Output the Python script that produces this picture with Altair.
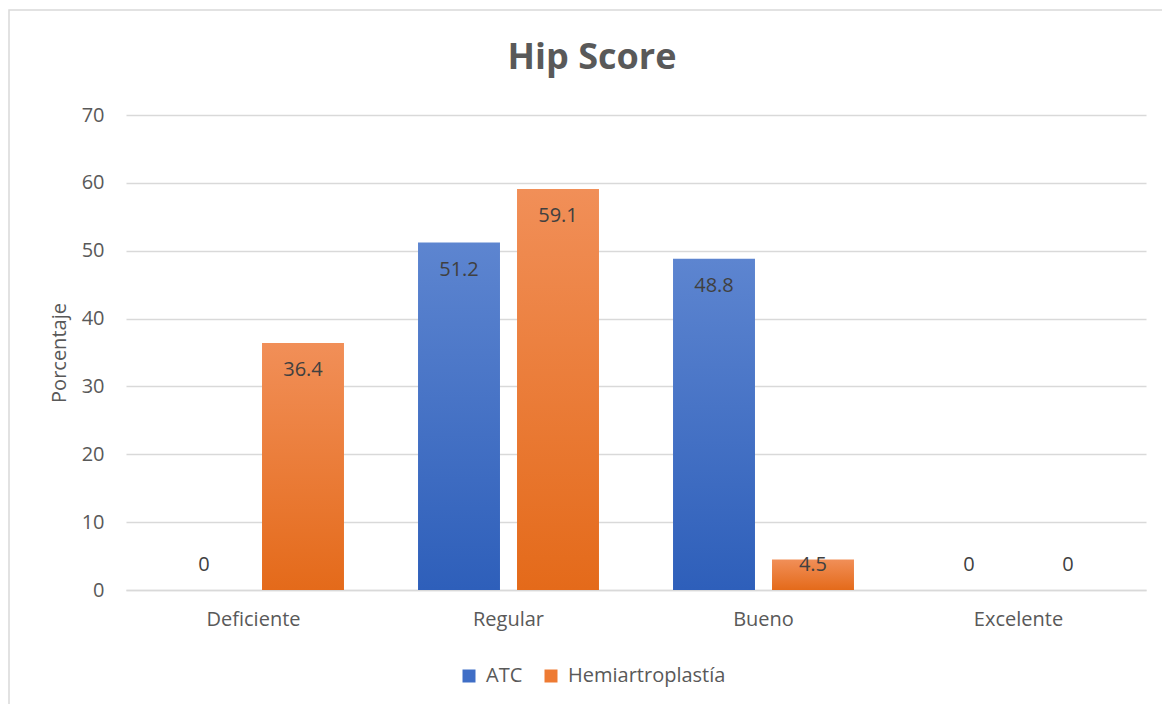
import altair as alt
import pandas as pd

categories = ["Deficiente", "Regular", "Bueno", "Excelente"]
series = ["ATC", "Hemiartroplastía"]
atc_values = [0, 51.2, 48.8, 0]
hemi_values = [36.4, 59.1, 4.5, 0]
y_ticks = [0, 10, 20, 30, 40, 50, 60, 70]

rows = []
for c, a, h in zip(categories, atc_values, hemi_values):
    rows.append({"cat": c, "serie": "ATC", "valor": a})
    rows.append({"cat": c, "serie": "Hemiartroplastía", "valor": h})
df = pd.DataFrame(rows)

FONT = "Open Sans"
GRAY = "#595959"
GRID = "#D9D9D9"

x_enc = alt.X(
    "cat:N", sort=categories,
    scale=alt.Scale(domain=categories, paddingInner=0, paddingOuter=0),
    axis=alt.Axis(title=None, labelAngle=0, labelFontSize=20, labelColor=GRAY,
                  labelFont=FONT, labelPadding=19, ticks=False,
                  domainColor=GRID, domainWidth=1.5, grid=False),
)
xoff = alt.XOffset(
    "serie:N", sort=series,
    scale=alt.Scale(domain=series, paddingInner=0.172, paddingOuter=0.374),
)
y_axis = alt.Axis(values=y_ticks, title="Porcentaje", titleFontSize=20,
                  titleColor=GRAY, titleFontWeight="normal", titleFont=FONT,
                  titlePadding=12, labelFontSize=20, labelColor=GRAY,
                  labelFont=FONT, labelPadding=22, ticks=False, domain=False,
                  gridColor=GRID, gridWidth=1.5)
y_scale = alt.Scale(domain=[0, 70], nice=False)

blue_grad = alt.Gradient(
    gradient="linear", x1=0, x2=0, y1=0, y2=1,
    stops=[alt.GradientStop(color="#5D85D0", offset=0),
           alt.GradientStop(color="#2E5FBA", offset=1)],
)
orange_grad = alt.Gradient(
    gradient="linear", x1=0, x2=0, y1=0, y2=1,
    stops=[alt.GradientStop(color="#F18F58", offset=0),
           alt.GradientStop(color="#E46A1A", offset=1)],
)

base = alt.Chart(df)

border = alt.Chart(pd.DataFrame({"k": [0]})).mark_rect(
    fill="white", fillOpacity=0, stroke=GRID, strokeWidth=1.5
).encode(
    x=alt.value(-117), x2=alt.value(1060),
    y=alt.value(-105), y2=alt.value(620),
)

bars_atc = base.transform_filter(alt.datum.serie == "ATC").mark_bar(
    fill=blue_grad
).encode(
    x=x_enc, xOffset=xoff,
    y=alt.Y("valor:Q", scale=y_scale, axis=y_axis, title="Porcentaje"),
)
bars_hemi = base.transform_filter(alt.datum.serie == "Hemiartroplastía").mark_bar(
    fill=orange_grad
).encode(
    x=x_enc, xOffset=xoff,
    y=alt.Y("valor:Q", scale=y_scale, axis=y_axis, title="Porcentaje"),
)

labels = base.transform_calculate(
    label_y="max(datum.valor - 3.98, 3.68)"
).mark_text(
    font=FONT, fontSize=20, color="#404040", baseline="middle", align="center"
).encode(
    x=x_enc, xOffset=xoff,
    y=alt.Y("label_y:Q", scale=y_scale, axis=y_axis, title="Porcentaje"),
    text=alt.Text("valor:Q"),
)

legend_layer = base.mark_square(opacity=0, size=10).encode(
    x=x_enc, xOffset=xoff,
    y=alt.Y("valor:Q", scale=y_scale, axis=y_axis, title="Porcentaje"),
    color=alt.Color(
        "serie:N", sort=series,
        scale=alt.Scale(domain=series, range=["#3F6EC6", "#EE7B33"]),
        legend=alt.Legend(
            orient="none", legendX=333, legendY=551, direction="horizontal",
            title=None, symbolType="square", symbolSize=169, symbolOpacity=1,
            symbolStrokeWidth=0, labelFontSize=20, labelColor=GRAY,
            labelFont=FONT, columnPadding=18, labelOffset=7, padding=0,
        ),
    ),
)

chart = alt.layer(border, bars_atc, bars_hemi, labels, legend_layer).properties(
    width=1020,
    height=475,
    title=alt.TitleParams("Hip Score", fontSize=36, font=FONT, fontWeight="bold",
                          color=GRAY, anchor="middle", dx=-44, offset=0, dy=68),
    padding={"left": 126, "top": 115, "right": 16, "bottom": 114},
    autosize=alt.AutoSizeParams(type="none"),
    background="white",
).configure_view(stroke="transparent")

chart.save("out.html", embed_options={"renderer": "svg", "actions": False})
